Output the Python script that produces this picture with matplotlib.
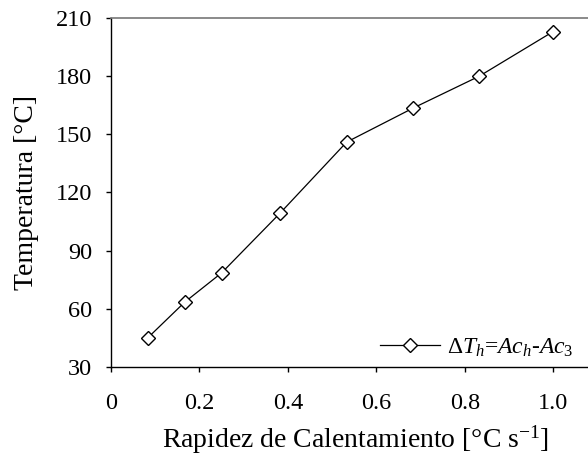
import matplotlib.pyplot as plt

# heating rate [°C/s] vs. temperature difference ΔTh
rate = [0.083, 0.167, 0.25, 0.383, 0.533, 0.683, 0.833, 1.0]
delta_t = [45, 63.5, 78.5, 109.5, 146, 163.5, 180, 203]

x_ticks = [0, 0.2, 0.4, 0.6, 0.8, 1.0]
x_labels = ["0", "0.2", "0.4", "0.6", "0.8", "1.0"]
y_ticks = [30, 60, 90, 120, 150, 180, 210]

plt.rcParams["font.family"] = ["Liberation Serif", "DejaVu Serif"]
plt.rcParams["mathtext.fontset"] = "custom"
plt.rcParams["mathtext.rm"] = "Liberation Serif"
plt.rcParams["mathtext.it"] = "Liberation Serif:italic"

fig = plt.figure(figsize=(5.88, 4.57), dpi=100)
# the frame runs past the right edge of the canvas
ax = fig.add_axes([0.1888, 0.197, 0.8316, 0.7636])

ax.plot(rate, delta_t, color="black", lw=0.9, marker="D", markersize=7,
        markerfacecolor="white", markeredgecolor="black", markeredgewidth=1.0,
        label=r"$\Delta T_h$=$Ac_h$-$Ac_3$")

ax.set_xlim(0, 1.106)
ax.set_ylim(30, 210)
ax.set_xticks(x_ticks)
ax.set_xticklabels(x_labels)
ax.set_yticks(y_ticks)

ax.spines["right"].set_visible(False)
ax.spines["top"].set_color("#777777")
ax.spines["top"].set_linewidth(1.2)
ax.spines["left"].set_linewidth(1.0)
ax.spines["bottom"].set_linewidth(1.0)

ax.tick_params(axis="both", direction="out", length=3.6, width=1,
               labelsize=17.5)
ax.tick_params(axis="x", pad=15)
ax.tick_params(axis="y", pad=10)

ax.set_xlabel(r"Rapidez de Calentamiento [°C s$^{\mathregular{-1}}$]",
              fontsize=20, labelpad=7)
ax.set_ylabel("Temperatura [°C]", fontsize=20, labelpad=12)

ax.legend(loc="center left", bbox_to_anchor=(269 / 489, 0.055),
          frameon=False, fontsize=17, handlelength=2.55,
          handletextpad=0.3, borderaxespad=0, borderpad=0)

fig.savefig("out.png", dpi=100)
